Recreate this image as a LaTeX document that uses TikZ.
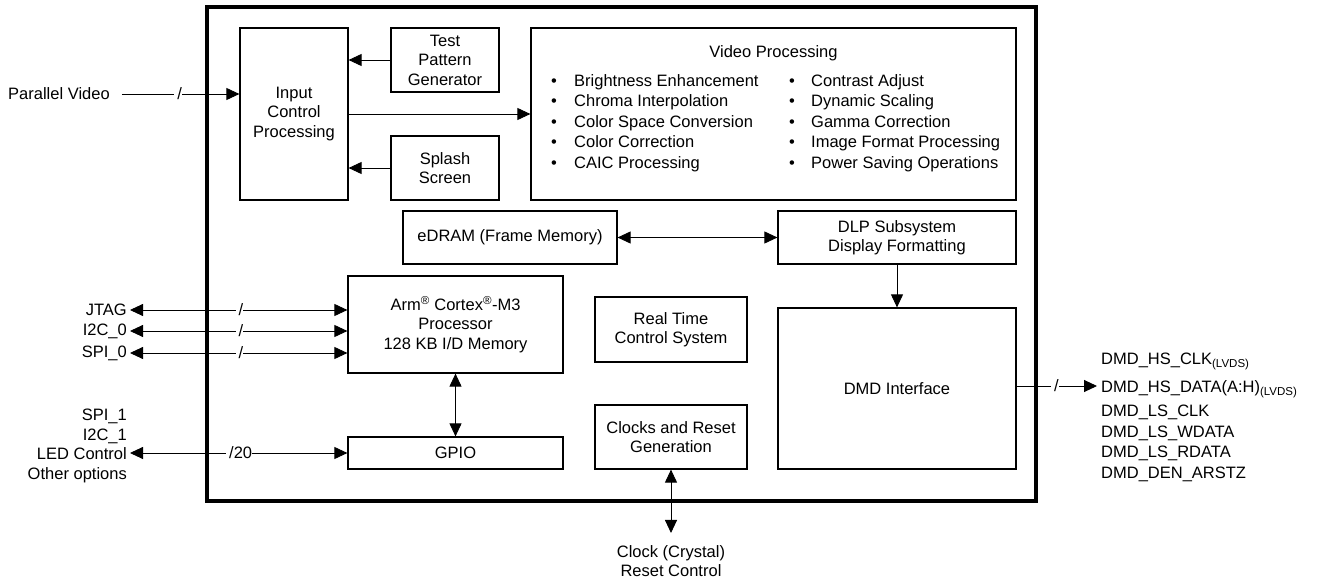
\documentclass[tikz,border=0pt]{standalone}
\usepackage{fontspec}
\setmainfont{Liberation Sans}
\usetikzlibrary{arrows.meta}

\newcommand{\lvds}{\raisebox{-3pt}{\fontsize{11.5}{11.5}\selectfont(LVDS)}}

\begin{document}
\begin{tikzpicture}[x=1pt, y=-1pt,
	>={Triangle[length=13pt, width=12pt]},
	txt/.style={font=\fontsize{16.5}{19.5}\selectfont},
	blk/.style={txt, draw, line width=1.2pt, align=center, inner sep=0pt},
	lbl/.style={txt, inner sep=3pt, align=right},
	sig/.style={line width=0.9pt},
	bus/.style={txt, fill=white, inner sep=0pt, anchor=east},
	pin/.style={txt, inner sep=0pt, anchor=base west}]

	\useasboundingbox (0,0) rectangle (1320,580);

	%%% Chip %%%
	\node[draw, line width=3.2pt, inner sep=0pt, minimum width=829, minimum height=494] (chip) at (621.5,254) {};

	\node[blk, minimum width=108, minimum height=172] (icp) at (294,114) {Input\\Control\\Processing};
	\node[blk, minimum width=108, minimum height=64] (tpg) at (445,60) {Test\\Pattern\\Generator};
	\node[blk, minimum width=108, minimum height=64] (splash) at (445,168) {Splash\\Screen};
	\node[blk, minimum width=485, minimum height=172] (vp) at (773.5,114) {};

	\node[txt] (vptitle) at (773.5,53) {Video Processing};
	\node[txt, inner sep=0pt, anchor=west] (vpl) at (551,123) {\fontsize{16.5}{20.5}\selectfont
		\begin{tabular}{@{}p{23pt}@{}l@{}}
		\textbullet & Brightness Enhancement\\
		\textbullet & Chroma Interpolation\\
		\textbullet & Color Space Conversion\\
		\textbullet & Color Correction\\
		\textbullet & CAIC Processing
		\end{tabular}};
	\node[txt, inner sep=0pt, anchor=west] (vpr) at (789,123) {\fontsize{16.5}{20.5}\selectfont
		\begin{tabular}{@{}p{22pt}@{}l@{}}
		\textbullet & Contrast Adjust\\
		\textbullet & Dynamic Scaling\\
		\textbullet & Gamma Correction\\
		\textbullet & Image Format Processing\\
		\textbullet & Power Saving Operations
		\end{tabular}};

	\node[blk, minimum width=214, minimum height=53] (edram) at (510,237.5) {eDRAM (Frame Memory)};
	\node[blk, minimum width=238, minimum height=53] (dlp) at (897,237.5) {DLP Subsystem\\Display Formatting};
	\node[blk, minimum width=215, minimum height=97] (arm) at (455.5,324.5) {Arm\textsuperscript{®} Cortex\textsuperscript{®}-M3\\Processor\\128 KB I/D Memory};
	\node[blk, minimum width=152, minimum height=65] (rtc) at (671,329.5) {Real Time\\Control System};
	\node[blk, minimum width=238, minimum height=161] (dmd) at (897,388.5) {DMD Interface};
	\node[blk, minimum width=215, minimum height=32] (gpio) at (455.5,453) {GPIO};
	\node[blk, minimum width=152, minimum height=64] (clk) at (671,437) {Clocks and Reset\\Generation};

	%%% Outside %%%
	\node[lbl, anchor=west] (pv) at (5,94) {Parallel Video};
	\node[lbl, anchor=east] (jtag) at (130,310) {JTAG};
	\node[lbl, anchor=east] (i2c0) at (130,331) {I2C\_0};
	\node[lbl, anchor=east] (spi0) at (130,353) {SPI\_0};
	\node[lbl, anchor=east] (gpiolbl) at (130,446) {SPI\_1\\I2C\_1\\LED Control\\Other options};
	\node[lbl, align=center, inner sep=0pt] (clkin) at (671,561) {Clock (Crystal)\\Reset Control};

	\node[pin] (hsclk) at (1101,364) {DMD\_HS\_CLK\lvds};
	\node[pin] (hsdata) at (1101,392) {DMD\_HS\_DATA(A:H)\lvds};
	\node[pin] (lsclk) at (1101,416) {DMD\_LS\_CLK};
	\node[pin] (lswdata) at (1101,437) {DMD\_LS\_WDATA};
	\node[pin] (lsrdata) at (1101,457) {DMD\_LS\_RDATA};
	\node[pin] (denarstz) at (1101,478) {DMD\_DEN\_ARSTZ};
	\coordinate (dmdout) at (1097,386);

	%%% Connections %%%
	\draw[sig, ->, shorten <=9pt] (pv.east) -- node[bus, pos=0.55] {\hspace{3pt}/} (pv.east -| icp.west);
	\draw[sig, ->] (tpg.west) -- (tpg.west -| icp.east);
	\draw[sig, ->] (splash.west) -- (splash.west -| icp.east);
	\draw[sig, ->] (icp) -- (vp);
	\draw[sig, <->] (edram) -- (dlp);
	\draw[sig, ->] (dlp) -- (dmd);

	\draw[sig, <->] (jtag.east) -- node[bus, pos=0.523] {\hspace{3pt}/} (jtag.east -| arm.west);
	\draw[sig, <->] (i2c0.east) -- node[bus, pos=0.523] {\hspace{3pt}/} (i2c0.east -| arm.west);
	\draw[sig, <->] (spi0.east) -- node[bus, pos=0.523] {\hspace{3pt}/} (spi0.east -| arm.west);
	\draw[sig, <->] (gpiolbl.east |- gpio.west) -- node[bus, pos=0.564] {\hspace{3pt}/20} (gpio.west);
	\draw[sig, <->] (arm) -- (gpio);

	\draw[sig, <->, shorten >=12pt] (clk.south) -- (clkin.north);
	\draw[sig, ->] (dmd.east |- dmdout) -- node[bus, pos=0.53] {\hspace{3pt}/} (dmdout);

\end{tikzpicture}
\end{document}
